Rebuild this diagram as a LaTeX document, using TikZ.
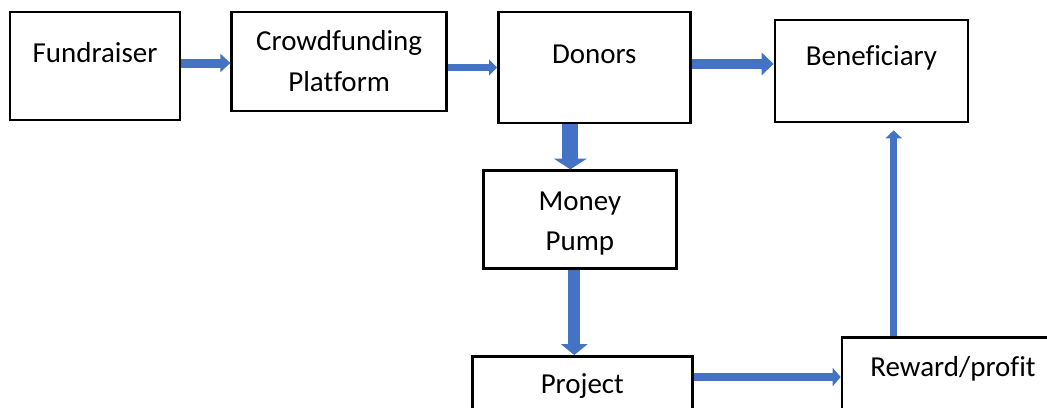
\documentclass[tikz,border=0pt]{standalone}
\usepackage{fontspec}
\setmainfont{Carlito}[Ligatures=NoCommon]
\usepackage{tikz}
\usetikzlibrary{arrows.meta,positioning}
\definecolor{arrowblue}{HTML}{4472C4}

\begin{document}
\begin{tikzpicture}[
	font=\fontsize{20.6}{28.5}\selectfont,
	box/.style={rectangle, draw=black, line width=1.9pt, inner sep=0pt, align=center},
	flow/.style n args={3}{draw=arrowblue, line width=#1, -{Triangle[width=#2, length=#3]}},
]
\useasboundingbox (0,0) rectangle (26.175,-10.175);
\node[box, minimum width=4.25cm, text height=1.25cm, text depth=1.45cm] (fund) at (2.375,-1.65) {Fundraiser};
\node[box, minimum width=5.375cm, text height=1.975cm, text depth=0.5cm] (crowd) [right=1.225cm of fund.north east, anchor=north west] {Crowdfunding\\Platform};
\node[box, minimum width=4.8cm, text height=1.275cm, text depth=1.5cm] (donors) [right=1.225cm of crowd.north east, anchor=north west] {Donors};
\node[box, minimum width=4.825cm, text height=1.125cm, text depth=1.425cm] (benef) [below right=0.2cm and 2.05cm of donors.north east] {Beneficiary};
\node[box, minimum width=4.825cm, text height=2.0cm, text depth=0.45cm] (mpump) [below=1.125cm of donors.south, xshift=-0.3625cm] {Money\\Pump};
\node[box, minimum width=5.5cm, text height=0.925cm, text depth=1.05cm] (proj) [below=2.125cm of mpump.south, xshift=0.0625cm] {Project};
\node[box, minimum width=5.55cm, text height=0.975cm, text depth=1.475cm] (reward) [right=3.675cm of proj.north east, anchor=north west, yshift=0.475cm] {Reward/profit};
\draw[flow={0.225cm}{0.45cm}{0.25cm}] ([yshift=0.075cm]fund.east) -- ([yshift=0.075cm]fund.east -| crowd.west);
\draw[flow={0.175cm}{0.4cm}{0.2cm}] (donors.west -| crowd.east) -- (donors.west);
\draw[flow={0.27cm}{0.55cm}{0.3cm}] ([yshift=0.09cm]donors.east) -- ([yshift=0.09cm]donors.east -| benef.west);
\draw[flow={0.4cm}{0.82cm}{0.27cm}] ([xshift=-0.6cm]donors.south) -- ([xshift=-0.6cm]donors.south |- mpump.north);
\draw[flow={0.3cm}{0.65cm}{0.27cm}] ([xshift=-0.14cm]mpump.south) -- ([xshift=-0.14cm]mpump.south |- proj.north);
\draw[flow={0.2cm}{0.45cm}{0.2cm}] ([yshift=-0.55cm]proj.north east) -- ([yshift=-0.55cm]proj.north east -| reward.west);
\draw[flow={0.18cm}{0.4cm}{0.2cm}, shorten >=0.175cm] ([xshift=1.325cm]reward.north west) -- ([xshift=1.325cm]reward.north west |- benef.south);
\end{tikzpicture}
\end{document}
